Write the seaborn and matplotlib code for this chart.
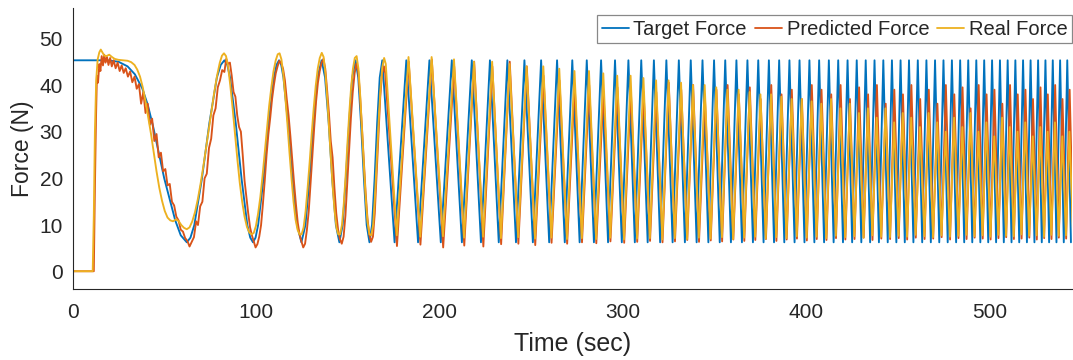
import matplotlib
matplotlib.use("Agg")
import matplotlib.pyplot as plt
import pandas as pd
import seaborn as sns

# ---------------- data ----------------
series_names = ["Target Force", "Predicted Force", "Real Force"]
series_colors = ["#0072BD", "#D95319", "#EDB120"]
x_ticks = [0, 100, 200, 300, 400, 500]
y_ticks = [0, 10, 20, 30, 40, 50]

# target force, first slow cycles (time, force)
target_early = [(0, 45.3), (19, 45.3), (25, 45.0), (30, 44.0), (34, 42.3), (38, 39.3), (41, 35.8),
                (44, 31.0), (47, 25.5), (50, 20.0), (53, 15.5), (56, 11.0), (59, 7.8), (62.3, 6.3),
                (64.3, 7.3), (66.4, 10.0), (70.5, 19.8), (74.6, 31.8), (78.7, 41.6), (80.8, 44.3), (82.8, 45.3),
                (84.4, 44.3), (85.9, 41.6), (89.0, 31.8), (92.2, 19.8), (95.3, 10.0), (96.9, 7.3), (98.4, 6.3),
                (99.8, 7.3), (101.2, 10.0), (104.1, 19.8), (106.9, 31.8), (109.8, 41.6), (111.2, 44.3), (112.6, 45.3),
                (113.8, 44.3), (115.0, 41.6), (117.5, 31.8), (119.9, 19.8), (122.4, 10.0), (124.8, 6.3),
                (127.0, 10.0), (129.2, 19.8), (131.4, 31.8), (133.6, 41.6), (135.8, 45.3),
                (137.7, 41.6), (139.7, 31.8), (141.6, 19.8), (143.6, 10.0), (145.5, 6.3),
                (147.3, 10.0), (149.0, 19.8), (150.8, 31.8), (152.5, 41.6), (154.3, 45.3),
                (155.8, 41.6), (157.3, 31.8), (158.9, 19.8), (160.4, 10.0), (161.9, 6.3),
                (163.3, 10.0), (164.7, 19.8), (166.1, 31.8), (167.5, 41.6), (168.9, 45.3)]

# times of the target's peaks P1..P66 and troughs T1..T67 (sec)
peak_t = [82.8, 112.6, 135.8, 154.3, 168.9, 182.0, 194.6, 206.8, 217.7, 227.6,
          237.1, 246.4, 255.5, 264.2, 272.5, 280.4, 288.2, 295.8, 303.1, 310.1,
          317.0, 323.8, 330.6, 337.1, 343.5, 349.8, 355.9, 362.0, 368.0, 373.9,
          379.7, 385.3, 390.9, 396.4, 401.8, 407.1, 412.4, 417.5, 422.6, 427.6,
          432.5, 437.3, 442.1, 446.8, 451.5, 456.1, 460.9, 465.6, 470.3, 474.9,
          479.5, 484.0, 488.4, 492.8, 497.1, 501.4, 505.7, 509.9, 514.1, 518.3,
          522.4, 526.5, 530.5, 534.5, 538.5, 542.4]
trough_t = [62.3, 98.4, 124.8, 145.5, 161.9, 175.6, 188.4, 200.8, 212.3, 222.7,
            232.4, 241.8, 251.0, 259.9, 268.4, 276.5, 284.3, 292.0, 299.5, 306.6,
            313.6, 320.4, 327.2, 333.9, 340.3, 346.7, 352.9, 359.0, 365.0, 371.0,
            376.8, 382.5, 388.1, 393.7, 399.1, 404.5, 409.8, 415.0, 420.1, 425.1,
            430.1, 434.9, 439.7, 444.5, 449.2, 453.8, 458.5, 463.3, 468.0, 472.6,
            477.2, 481.8, 486.2, 490.6, 495.0, 499.3, 503.6, 507.8, 512.0, 516.2,
            520.4, 524.5, 528.5, 532.5, 536.5, 540.5, 544.4]
target_peak_f = [45.3] * 61      # P6..P66
target_trough_f = [6.3] * 62     # T6..T67

# predicted force, start (time, force)
pred_early = [(0, 0.1), (11.6, 0.1), (12.2, 18), (12.8, 33), (13.3, 42), (13.9, 40.5), (14.6, 44.5), (15.2, 43),
              (15.9, 46.2), (16.6, 44.2), (17.3, 46.5), (18.0, 44.8), (18.8, 46.0), (19.6, 44.3), (20.5, 45.8),
              (21.4, 44.0), (22.4, 45.3), (23.5, 43.6), (24.6, 44.8), (25.7, 43.0), (26.8, 44.2), (27.9, 42.6),
              (29.0, 43.6), (30.2, 41.8), (31.4, 42.9), (32.6, 40.6), (33.8, 41.8), (35.0, 39.2), (36.2, 40.2),
              (37.4, 36.0), (38.6, 38.5), (39.8, 34.0), (41.0, 36.0), (42.2, 31.5), (43.4, 32.8), (44.6, 28.0),
              (45.8, 29.5), (47.0, 24.5), (48.2, 25.5), (49.4, 21.5), (50.6, 22.0), (51.8, 18.5), (53.0, 18.8),
              (54.2, 15.0), (55.4, 14.2), (56.6, 11.8), (57.8, 11.0), (59.0, 9.0), (60.2, 8.6), (61.4, 7.2),
              (62.6, 6.6), (63.8, 5.4), (65.0, 6.4), (66.2, 7.4), (67.4, 10.8), (68.4, 10.0), (69.6, 14.0),
              (70.8, 15.0), (72.0, 20.0), (73.2, 21.0), (74.4, 26.5), (75.6, 28.5), (76.8, 33.5), (78.0, 35.0),
              (79.2, 39.5), (80.4, 41.0), (81.6, 43.2), (82.8, 42.8), (83.8, 45.6), (84.8, 44.5), (85.8, 44.8),
              (86.8, 42.0), (87.8, 38.5), (88.8, 37.5), (89.8, 33.5), (90.8, 31.0), (91.8, 30.0), (92.8, 25.0),
              (93.8, 19.5), (94.8, 16.0), (95.8, 12.5), (96.8, 9.5), (97.8, 7.8), (98.8, 6.5), (99.8, 5.2),
              (100.8, 5.9), (101.8, 7.5), (102.8, 10.0), (103.8, 14.5), (104.8, 19.5), (105.8, 25.0),
              (106.8, 29.5), (107.8, 33.0), (108.8, 37.0), (109.8, 40.0), (110.8, 42.5), (111.8, 44.0),
              (112.8, 45.2), (113.8, 44.6), (114.8, 43.5), (115.8, 41.0), (116.8, 37.0), (117.8, 33.5),
              (118.8, 29.0), (119.8, 24.0), (120.8, 19.0), (121.8, 14.5), (122.8, 10.5), (123.8, 8.0),
              (124.8, 6.5), (125.8, 5.2), (126.8, 6.0), (127.8, 9.0), (128.8, 13.0), (129.8, 19.0),
              (130.8, 25.0), (131.8, 31.0), (132.8, 36.5), (133.8, 40.5), (134.8, 43.0), (135.8, 44.8),
              (136.8, 45.6), (137.8, 43.5), (138.8, 39.0), (139.8, 34.0), (140.8, 28.0), (141.8, 24.5),
              (142.8, 18.0), (143.8, 12.5), (144.8, 9.0), (145.8, 7.0), (146.8, 6.0), (147.8, 7.5),
              (148.8, 12.0), (149.8, 19.0), (150.8, 26.0), (151.8, 33.0), (152.8, 38.5), (153.8, 42.5),
              (154.8, 44.6), (155.8, 43.0), (156.8, 37.5), (157.8, 31.0), (158.8, 24.0), (159.8, 17.0),
              (160.8, 11.5), (161.8, 8.0), (162.8, 6.4), (163.8, 7.5), (164.8, 12.5), (165.8, 21.0),
              (166.8, 30.0), (167.8, 37.5), (168.8, 42.5), (169.8, 44.0), (170.5, 42.5)]
pred_lag = 1.3
pred_peak_f = [45, 45.5, 44, 45, 44, 45, 44, 42, 41, 40, 40, 38.5, 39.5, 39, 38.5,
               38.5, 40.5, 39, 40, 37.5, 39, 40, 38, 39.5, 37, 40, 38, 39, 37, 40,
               39, 38, 40, 37, 39.5, 38, 40, 36, 39, 38, 40, 37, 39, 36, 40,
               38, 39.5, 35, 40, 38, 39, 36, 40, 38, 39, 37, 39.5, 38, 40, 37, 39]
pred_trough_f = [5.5, 5.8, 5.2, 5.6, 5.4, 5.9, 6.0, 5.7, 6.2, 6.0,
                 6.3, 6.1, 6.5, 6.2, 6.4, 6.6, 6.3, 6.5, 6.8, 6.4,
                 6.7, 6.5, 6.9, 6.6, 6.8, 7.0, 6.6, 6.9, 7.1, 6.7,
                 7.0, 6.8, 7.2, 6.9, 7.0, 7.3, 6.8, 7.1, 7.0, 7.2,
                 6.9, 7.3, 7.0, 7.1, 7.4, 6.9, 7.2, 7.0, 7.3, 7.1,
                 6.9, 7.2, 7.4, 7.0, 7.1, 7.3, 6.9, 7.2, 7.0, 7.3,
                 7.1, 7.0]

# real force, start (time, force)
real_early = [(0, 0.1), (11.0, 0.1), (11.6, 12), (12.2, 30), (12.9, 41), (13.7, 45.5), (14.6, 47.0), (15.4, 47.6),
              (16.3, 47.0), (17.3, 46.3), (18.5, 46.2), (20.0, 46.5), (21.5, 46.0), (23.0, 45.6), (25.0, 45.4),
              (27.5, 45.3), (30.0, 45.2), (32.0, 44.9), (33.8, 44.3), (35.3, 43.3), (36.8, 41.8), (38.3, 39.5),
              (39.8, 36.5), (41.3, 33.0), (42.8, 29.5), (44.3, 25.5), (45.8, 21.5), (47.3, 18.0), (48.8, 15.2),
              (50.3, 13.0), (51.8, 11.6), (53.3, 11.0), (54.8, 10.8), (56.3, 11.2), (57.8, 10.9), (59.3, 10.0),
              (60.8, 9.4), (62.3, 9.1), (63.8, 9.5), (65.3, 10.8), (66.8, 12.8), (68.3, 15.5), (69.8, 18.8),
              (71.3, 22.5), (72.8, 26.5), (74.3, 30.5), (75.8, 34.5), (77.3, 38.5), (78.8, 42.0), (80.3, 44.8),
              (81.5, 46.3), (82.6, 46.8), (83.7, 46.2), (84.8, 44.0), (86.0, 40.0), (87.3, 35.0), (88.6, 29.5),
              (89.9, 24.0), (91.2, 19.0), (92.5, 15.0), (93.8, 11.8), (95.1, 9.6), (96.4, 8.4), (97.7, 8.0),
              (98.8, 8.3), (100.0, 9.8), (101.2, 12.5), (102.4, 16.0), (103.6, 20.5), (104.8, 25.5),
              (106.0, 30.5), (107.2, 35.5), (108.4, 39.5), (109.6, 43.0), (110.8, 45.3), (111.9, 46.6),
              (112.9, 46.8), (113.9, 45.5), (115.0, 42.0), (116.1, 37.0), (117.2, 31.5), (118.3, 25.5),
              (119.4, 20.0), (120.5, 15.0), (121.6, 11.2), (122.7, 9.0), (123.8, 8.0), (124.9, 8.0),
              (126.0, 9.5), (127.1, 13.0), (128.2, 18.0), (129.3, 23.5), (130.4, 29.5), (131.5, 35.0),
              (132.6, 39.8), (133.7, 43.5), (134.8, 45.8), (135.9, 46.9), (136.9, 46.0), (137.9, 42.5),
              (138.9, 37.0), (139.9, 30.5), (140.9, 24.0), (141.9, 18.0), (142.9, 13.0), (143.9, 9.5),
              (144.9, 8.0), (145.9, 8.0), (146.9, 10.0), (147.9, 14.5), (148.9, 20.5), (149.9, 27.5),
              (150.9, 34.0), (151.9, 39.5), (152.9, 43.5), (153.9, 45.8), (154.9, 46.2), (155.9, 43.5),
              (156.9, 37.5), (157.9, 30.0), (158.9, 22.5), (159.9, 15.5), (160.9, 10.5), (161.9, 8.0),
              (162.9, 7.8), (163.9, 10.0), (164.9, 16.0), (165.9, 24.0), (166.9, 32.0), (167.9, 39.0),
              (168.9, 43.8), (169.9, 45.8), (170.8, 44.5)]
real_lag = 1.2
real_peak_f = [46, 46, 45.5, 45, 45, 44.5, 44, 44, 43.5, 43, 43, 42.5, 42, 42, 41.5,
               41, 41, 40.5, 40, 40, 39.5, 39, 39, 38.5, 38, 38, 37.5, 37, 37, 36.5,
               36, 37, 35, 36, 34, 35, 33, 35, 32, 34, 33, 31, 34, 32, 30,
               33, 31, 34, 30, 32, 29, 33, 31, 30, 32, 29, 31, 30, 32, 29, 30]
real_trough_f = [7.8, 7.5, 7.6, 7.3, 7.5, 7.2, 7.4, 7.1, 7.3, 7.0,
                 7.2, 7.0, 7.3, 6.9, 7.1, 7.2, 6.9, 7.2, 7.0, 7.3,
                 7.1, 7.4, 7.0, 7.3, 7.5, 7.1, 7.4, 7.2, 7.6, 7.3,
                 7.5, 7.2, 7.7, 7.4, 7.6, 7.3, 7.8, 7.5, 7.4, 7.7,
                 7.5, 7.9, 7.6, 7.4, 7.8, 7.5, 7.7, 7.9, 7.6, 7.8,
                 7.5, 7.9, 7.7, 7.6, 8.0, 7.7, 7.8, 7.5, 7.9, 7.7,
                 7.8, 7.6]


def build(early, lag, peak_f, trough_f):
    t = [p[0] for p in early]
    f = [p[1] for p in early]
    for k, i in enumerate(range(5, 66)):
        t.append(trough_t[i] + lag)
        f.append(trough_f[k])
        t.append(peak_t[i] + lag)
        f.append(peak_f[k])
    t.append(trough_t[66] + lag)
    f.append(trough_f[61])
    return t, f


frames = []
for name, early, lag, pk, tr in [
    (series_names[0], target_early, 0.0, target_peak_f, target_trough_f),
    (series_names[1], pred_early, pred_lag, pred_peak_f, pred_trough_f),
    (series_names[2], real_early, real_lag, real_peak_f, real_trough_f),
]:
    t, f = build(early, lag, pk, tr)
    frames.append(pd.DataFrame({"Time": t, "Force": f, "Series": name}))
df = pd.concat(frames, ignore_index=True)

# ---------------- drawing ----------------
sns.set_theme(style="white")
plt.rcParams["font.family"] = ["Liberation Sans", "DejaVu Sans"]
dark = "#262626"

fig = plt.figure(figsize=(10.73, 3.60), dpi=100)
ax = fig.add_axes([0.0676, 0.196, 0.9315, 0.783])

sns.lineplot(data=df, x="Time", y="Force", hue="Series", hue_order=series_names,
             palette=series_colors, estimator=None, sort=False, linewidth=1.35, ax=ax)

ax.set_xlim(0, 545)
ax.set_ylim(-3.8, 56.6)
ax.set_xticks(x_ticks)
ax.set_yticks(y_ticks)
ax.set_xlabel("Time (sec)", fontsize=18, color=dark, labelpad=7)
ax.set_ylabel("Force (N)", fontsize=16.5, color=dark, labelpad=4)

for side in ["top", "right"]:
    ax.spines[side].set_visible(False)
for side in ["left", "bottom"]:
    ax.spines[side].set_color(dark)
    ax.spines[side].set_linewidth(0.8)
ax.tick_params(axis="both", direction="in", length=7, width=0.8, colors=dark, labelsize=15)
ax.tick_params(axis="x", pad=10)
ax.tick_params(axis="y", pad=7)

handles, labels = ax.get_legend_handles_labels()
leg = ax.legend(handles, labels, loc="upper right", bbox_to_anchor=(1.0, 0.973), borderaxespad=0,
                ncol=3, fontsize=14.5, frameon=True, fancybox=False, framealpha=1,
                edgecolor="#888888", borderpad=0.22, handlelength=1.35, handletextpad=0.22,
                columnspacing=0.4)
leg.get_frame().set_linewidth(0.9)
for line in leg.get_lines():
    line.set_linewidth(1.3)

fig.savefig("out.png", dpi=100)
